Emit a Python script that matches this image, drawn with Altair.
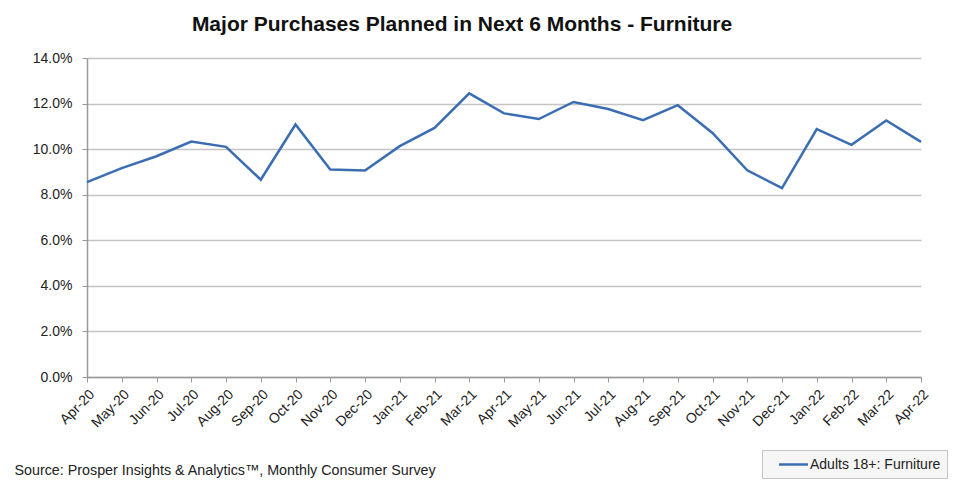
import altair as alt
import pandas as pd

months = ["Apr-20", "May-20", "Jun-20", "Jul-20", "Aug-20", "Sep-20", "Oct-20", "Nov-20",
          "Dec-20", "Jan-21", "Feb-21", "Mar-21", "Apr-21", "May-21", "Jun-21", "Jul-21",
          "Aug-21", "Sep-21", "Oct-21", "Nov-21", "Dec-21", "Jan-22", "Feb-22", "Mar-22",
          "Apr-22"]
values = [8.55, 9.17, 9.69, 10.33, 10.10, 8.66, 11.08, 9.11,
          9.06, 10.13, 10.93, 12.45, 11.57, 11.32, 12.07, 11.76,
          11.27, 11.93, 10.71, 9.07, 8.29, 10.88, 10.19, 11.26,
          10.32]
series_name = "Adults 18+: Furniture"
y_ticks = [0, 0.02, 0.04, 0.06, 0.08, 0.10, 0.12, 0.14]

df = pd.DataFrame({"month": months, "value": [v / 100 for v in values], "series": series_name})

FONT = "Liberation Sans"
TXT = "#222222"

chart = alt.Chart(df).mark_line(strokeWidth=2.5).encode(
    x=alt.X("month:N", sort=months,
            scale=alt.Scale(type="point", padding=0),
            axis=alt.Axis(title="Source: Prosper Insights & Analytics\u2122, Monthly Consumer Survey",
                          titleAnchor="start", titleAlign="left", titleBaseline="middle",
                          titleX=-73, titleY=93, titleFontWeight="normal", titleFontSize=14.3,
                          titleFont=FONT, titleColor=TXT,
                          labelAngle=-45, labelFontSize=14, labelFont=FONT, labelColor=TXT,
                          labelPadding=5, tickSize=5, tickColor="#999999", domainColor="#999999",
                          domainWidth=1.5, grid=False, labelOverlap=False)),
    y=alt.Y("value:Q", scale=alt.Scale(domain=[0, 0.14], nice=False),
            axis=alt.Axis(title=None, format=".1%", values=y_ticks, labelFontSize=14,
                          labelFont=FONT, labelColor=TXT, labelPadding=10,
                          tickSize=5, tickColor="#999999", domainColor="#999999", domainWidth=1.5,
                          gridColor="#c4c4c4", gridWidth=1.5)),
    color=alt.Color("series:N", scale=alt.Scale(range=["#3b6db3"]),
                    legend=alt.Legend(title=None, orient="none", legendX=675, legendY=392,
                                      labelFontSize=14, labelFont=FONT, labelColor=TXT,
                                      symbolType="M-2.07,0H2.07", symbolStrokeWidth=2.5,
                                      symbolSize=196, symbolOffset=17, labelOffset=8,
                                      strokeColor="#c4c4c4", fillColor="#f6f6f6", padding=6,
                                      cornerRadius=0)),
).properties(
    width=834, height=319,
    title=alt.TitleParams("Major Purchases Planned in Next 6 Months - Furniture",
                          font=FONT, fontSize=21, fontWeight="bold", color="#111111",
                          anchor="middle", dx=-42, offset=16),
    autosize=alt.AutoSizeParams(type="none"),
    padding={"left": 79, "top": 50, "right": 30, "bottom": 105},
).configure_view(stroke=None)

chart.save("out.html", embed_options={"renderer": "svg", "actions": False})
